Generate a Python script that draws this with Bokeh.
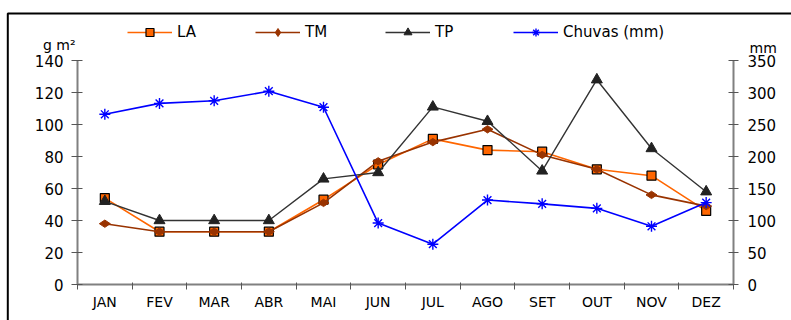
import math
from bokeh.plotting import figure
from bokeh.models import (Range1d, LinearAxis, FixedTicker, Legend, Label, BoxAnnotation)
from bokeh.embed import file_html
from bokeh.resources import INLINE

months = ["JAN", "FEV", "MAR", "ABR", "MAI", "JUN", "JUL", "AGO", "SET", "OUT", "NOV", "DEZ"]
la = [54, 33, 33, 33, 53, 75, 91, 84, 83, 72, 68, 46]
tm = [38, 33, 33, 33, 51, 77, 89, 97, 81, 72, 56, 49]
tp = [52, 40, 40, 40, 66, 70, 111, 102, 71, 128, 85, 58]
chuvas = [266, 283, 287, 302, 277, 96, 63, 132, 126, 119, 91, 128]
left_ticks = [0, 20, 40, 60, 80, 100, 120, 140]
right_ticks = [0, 50, 100, 150, 200, 250, 300, 350]

FONT = "DejaVu Sans"
n = len(months)
xs = [i + 0.5 for i in range(n)]

# frame covers the whole canvas; axes are pinned with fixed_location
W, H = 791, 320
ax_l, ax_r, ax_b, ax_t = 77, 733, 284, 60          # pixel frame of the inner plot
kx = (ax_r - ax_l) / n
ky = (ax_b - ax_t) / left_ticks[-1]
km = (ax_b - ax_t) / right_ticks[-1]

p = figure(width=W, height=H, output_backend="svg", toolbar_location=None, title=None,
           x_range=Range1d(-ax_l / kx, (W - ax_l) / kx),
           y_range=Range1d(-(H - ax_b) / ky, ax_b / ky),
           x_axis_location=None, y_axis_location=None,
           min_border=0, min_border_left=0, min_border_right=0,
           min_border_top=0, min_border_bottom=0)
p.extra_y_ranges = {"mm": Range1d(-(H - ax_b) / km, ax_b / km)}
p.xgrid.visible = False
p.ygrid.visible = False
p.outline_line_color = None
p.background_fill_color = "white"
p.border_fill_color = "white"

axis_color = "#808080"
tick_color = "#555555"

ly = LinearAxis(ticker=FixedTicker(ticks=left_ticks, minor_ticks=[]),
                fixed_location=0, bounds=(left_ticks[0], left_ticks[-1]))
ly.axis_line_color = axis_color
ly.axis_line_width = 2
ly.major_tick_line_color = tick_color
ly.major_tick_in = 5
ly.major_tick_out = 6
ly.major_label_standoff = 8
ly.major_label_text_font = FONT
ly.major_label_text_font_size = "15px"
ly.major_label_text_color = "black"
p.add_layout(ly, "left")

ry = LinearAxis(y_range_name="mm", ticker=FixedTicker(ticks=right_ticks, minor_ticks=[]),
                fixed_location=n, bounds=(right_ticks[0], right_ticks[-1]))
ry.axis_line_color = axis_color
ry.axis_line_width = 2
ry.major_tick_line_color = tick_color
ry.major_tick_in = 5
ry.major_tick_out = 5
ry.major_label_standoff = 9
ry.major_label_text_font = FONT
ry.major_label_text_font_size = "15px"
ry.major_label_text_color = "black"
p.add_layout(ry, "right")

bx = LinearAxis(ticker=FixedTicker(ticks=xs, minor_ticks=list(range(n + 1))),
                fixed_location=0, bounds=(0, n))
bx.major_label_overrides = {x: m for x, m in zip(xs, months)}
bx.axis_line_color = axis_color
bx.axis_line_width = 2
bx.major_tick_in = 0
bx.major_tick_out = 0
bx.minor_tick_line_color = tick_color
bx.minor_tick_in = 2
bx.minor_tick_out = 5
bx.major_label_standoff = 4
bx.major_label_text_font = FONT
bx.major_label_text_font_size = "14px"
bx.major_label_text_color = "black"
p.add_layout(bx, "below")

# series
r_la_l = p.line(xs, la, line_color="#FF6600", line_width=1.6)
r_la_m = p.scatter(xs, la, marker="square", size=9, fill_color="#FF6600", line_color="black", line_width=1.2)
r_tm_l = p.line(xs, tm, line_color="#993300", line_width=1.6)
r_tm_m = p.scatter(xs, tm, marker="diamond", size=11, angle=math.pi / 2,
                   fill_color="#993300", line_color="#993300")
r_tp_l = p.line(xs, tp, line_color="#333333", line_width=1.4)
r_tp_m = p.scatter(xs, tp, marker="triangle", size=11, fill_color="#222222", line_color="#222222")
r_ch_l = p.line(xs, chuvas, y_range_name="mm", line_color="#0000FF", line_width=1.6)
r_ch_m = p.scatter(xs, chuvas, y_range_name="mm", marker="asterisk", size=11,
                   line_color="#0000FF", line_width=1.4)

legend = Legend(items=[("LA", [r_la_l, r_la_m]), ("TM", [r_tm_l, r_tm_m]),
                       ("TP", [r_tp_l, r_tp_m]), ("Chuvas (mm)", [r_ch_l, r_ch_m])],
                orientation="horizontal", location=(127, H - 42))
legend.glyph_width = 45
legend.glyph_height = 20
legend.label_standoff = 5
legend.spacing = 58
legend.padding = 0
legend.margin = 0
legend.border_line_alpha = 0
legend.background_fill_alpha = 0
legend.label_text_font = FONT
legend.label_text_font_size = "15px"
legend.label_text_color = "black"
p.add_layout(legend, "center")

p.add_layout(Label(x=(75 - ax_l) / kx, y=(ax_b - 44) / ky, text="g m²", text_align="right",
                   text_baseline="alphabetic", text_font=FONT, text_font_size="14px",
                   text_color="black"))
p.add_layout(Label(x=(749 - ax_l) / kx, y=(ax_b - 47.5) / ky, text="mm", text_align="left",
                   text_baseline="alphabetic", text_font=FONT, text_font_size="14px",
                   text_color="black"))

# outer frame of the original figure (left and top edges visible)
p.add_layout(BoxAnnotation(left=(7.3 - ax_l) / kx, right=(W + 20 - ax_l) / kx,
                           top=(ax_b - 13) / ky, bottom=-(H + 20 - ax_b) / ky,
                           fill_alpha=0, line_color="black", line_width=2, line_alpha=1))

open("out.html", "w").write(file_html(p, INLINE))
